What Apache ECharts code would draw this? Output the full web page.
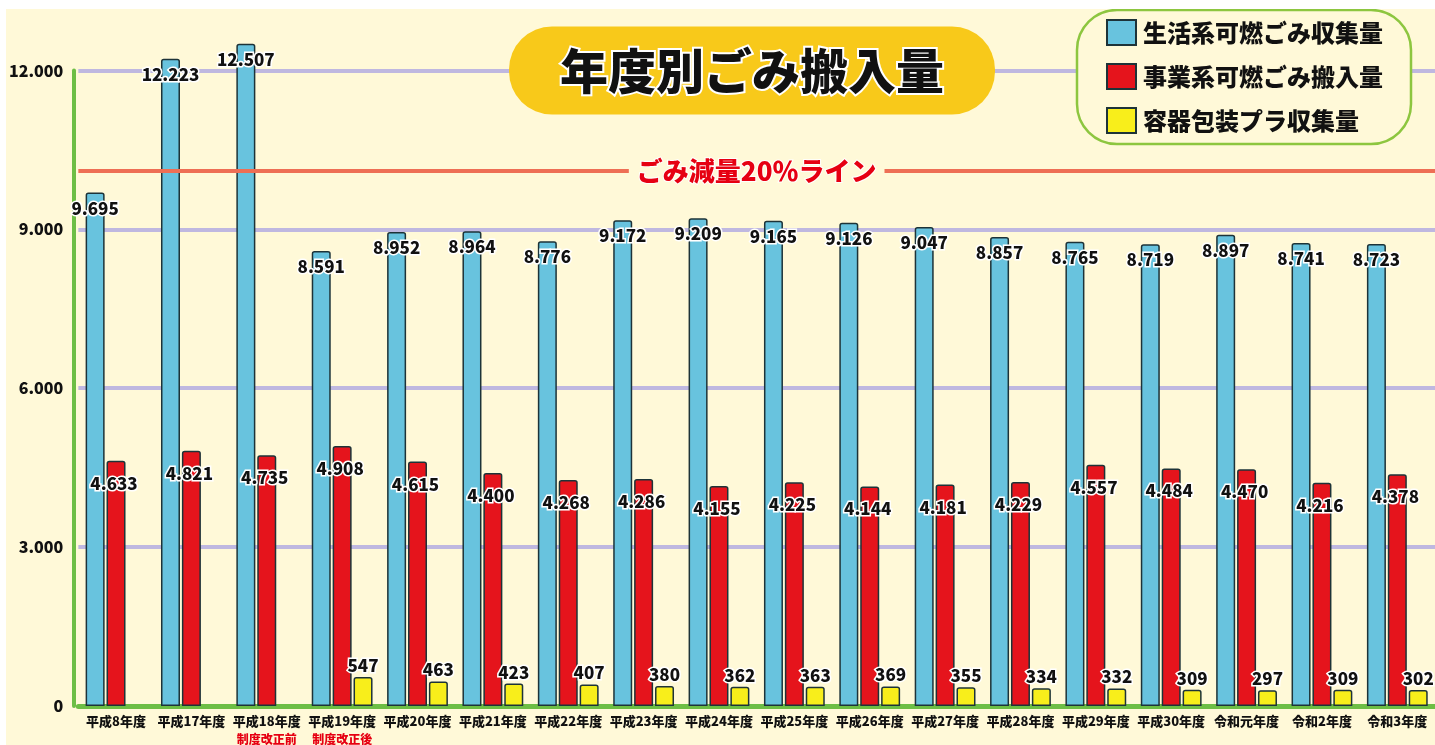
<!DOCTYPE html>
<html><head><meta charset="utf-8">
<script src="https://cdn.jsdelivr.net/npm/echarts@6/dist/echarts.min.js"></script>
<style>
html,body{margin:0;padding:0;background:#ffffff;width:1435px;height:745px;overflow:hidden}
#c{position:absolute;left:6px;top:9px;width:1429px;height:736px;background:#FFF9D8}
</style>
</head><body><div id="c"></div>
<script>
const categories = ['平成8年度','平成17年度','平成18年度','平成19年度','平成20年度','平成21年度','平成22年度','平成23年度','平成24年度','平成25年度','平成26年度','平成27年度','平成28年度','平成29年度','平成30年度','令和元年度','令和2年度','令和3年度'];
const notes = ['','','制度改正前','制度改正後','','','','','','','','','','','','','',''];
const household = [9695,12223,12507,8591,8952,8964,8776,9172,9209,9165,9126,9047,8857,8765,8719,8897,8741,8723];
const business = [4633,4821,4735,4908,4615,4400,4268,4286,4155,4225,4144,4181,4229,4557,4484,4470,4216,4378];
const plastic = [null,null,null,547,463,423,407,380,362,363,369,355,334,332,309,297,309,302];
const seriesNames = ['生活系可燃ごみ収集量','事業系可燃ごみ搬入量','容器包装プラ収集量'];
const yMin = 0, yMax = 12000, yStep = 3000;
const reductionLine = 10100;
const reductionLabel = 'ごみ減量20％ライン';
const chartTitle = '年度別ごみ搬入量';

const FONT = '"Noto Sans CJK JP", "Noto Sans", sans-serif';
const CREAM = '#FFF9D8';
const HEAVY = 900;
function fmt(v){ return String(v).replace(/\B(?=(\d{3})+(?!\d))/g, '.'); }

const valueLabel = {
  show: true, fontFamily: FONT, fontSize: 17, fontWeight: HEAVY, color: '#111',
  textBorderColor: '#fff', textBorderWidth: 3,
  formatter: p => p.value == null ? '' : fmt(p.value)
};
const border = { borderColor: '#1d3338', borderWidth: 1.5, borderRadius: [2,2,0,0] };

const chart = echarts.init(document.getElementById('c'));
chart.setOption({
  animation: false,
  backgroundColor: CREAM,
  textStyle: { fontFamily: FONT },
  title: {
    text: chartTitle, left: 505, top: 19,
    backgroundColor: '#F8C91A', borderRadius: 43, padding: [18, 49],
    textStyle: { fontFamily: FONT, fontSize: 48, fontWeight: HEAVY, color: '#111', lineHeight: 49,
      textBorderColor: '#fff', textBorderWidth: 4 }
  },
  legend: {
    orient: 'vertical', left: 1071, top: 1,
    padding: [9, 28, 10, 29], itemWidth: 29, itemHeight: 25, itemGap: 17,
    backgroundColor: CREAM, borderColor: '#8DC63F', borderWidth: 2.5, borderRadius: 40,
    icon: 'rect',
    textStyle: { fontFamily: FONT, fontSize: 24, fontWeight: HEAVY, color: '#111', padding: [0, 0, 0, 2] },
    data: seriesNames
  },
  grid: { left: 71, width: 1360, top: 61.5, bottom: 37, containLabel: false },
  xAxis: {
    type: 'category', data: categories,
    axisLine: { lineStyle: { color: '#6DBE45', width: 5 } },
    axisTick: { show: false },
    axisLabel: {
      margin: 6, interval: 0,
      formatter: (val, idx) => notes[idx] ? '{a|' + val + '}\n{n|' + notes[idx] + '}' : '{a|' + val + '}',
      rich: {
        a: { fontFamily: FONT, fontSize: 13, fontWeight: HEAVY, color: '#111', lineHeight: 18 },
        n: { fontFamily: FONT, fontSize: 12, fontWeight: HEAVY, color: '#E60012', lineHeight: 18 }
      }
    }
  },
  yAxis: {
    type: 'value', min: yMin, max: yMax, interval: yStep, offset: 5,
    axisLine: { show: true, lineStyle: { color: '#6DBE45', width: 4 } },
    axisTick: { show: false },
    axisLabel: { margin: 10, fontFamily: FONT, fontSize: 16, fontWeight: HEAVY, color: '#111',
      formatter: v => fmt(v) },
    splitLine: { lineStyle: { color: '#BFB8E0', width: 4 } }
  },
  series: [
    {
      name: seriesNames[0], type: 'bar', data: household, barWidth: 19, barGap: '10%', clip: false,
      itemStyle: Object.assign({ color: '#68C3DE' }, border),
      label: Object.assign({ position: 'insideTop', distance: 7 }, valueLabel),
      markLine: {
        silent: true, symbol: 'none', animation: false,
        lineStyle: { color: '#EE6F55', width: 4, type: 'solid' },
        label: { show: true, position: 'middle', distance: -14, formatter: reductionLabel,
          fontFamily: FONT, fontSize: 26, fontWeight: HEAVY, color: '#E60012', lineHeight: 28,
          backgroundColor: CREAM, padding: [0, 8], textBorderColor: '#fff', textBorderWidth: 2 },
        data: [{ yAxis: reductionLine }]
      }
    },
    {
      name: seriesNames[1], type: 'bar', data: business, barWidth: 19, barGap: '10%', clip: false,
      itemStyle: Object.assign({ color: '#E5141C' }, border),
      label: Object.assign({ position: 'insideTop', distance: 14, offset: [-2, 0] }, valueLabel)
    },
    {
      name: seriesNames[2], type: 'bar', data: plastic, barWidth: 19, barGap: '10%', clip: false,
      itemStyle: Object.assign({ color: '#F8EE1B' }, border),
      label: Object.assign({ position: 'top', distance: 3 }, valueLabel)
    }
  ]
});
</script>
</body></html>
